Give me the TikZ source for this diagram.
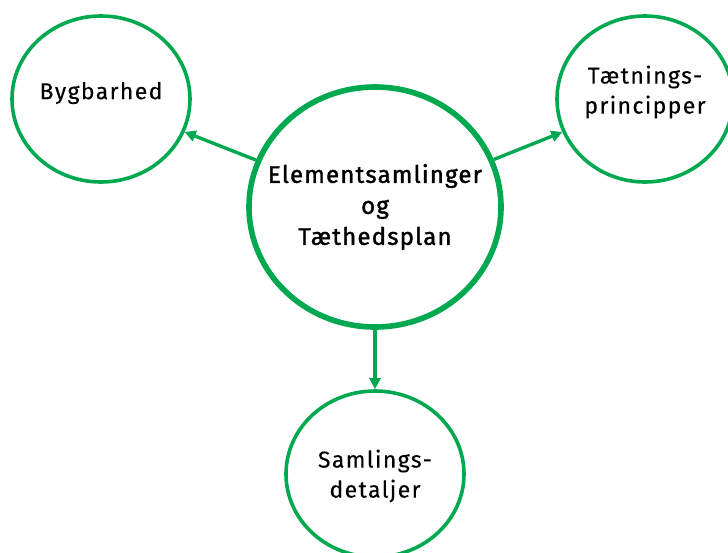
\documentclass[tikz,border=0pt]{standalone}
\usepackage{fontspec}
\usepackage{xcolor}
\newfontfamily\topicfont[LetterSpace=6,FakeBold=0.2]{Fira Sans}
\newfontfamily\hubfont[LetterSpace=5,FakeBold=1.6]{Fira Sans}
\usetikzlibrary{
    shapes.geometric,
    arrows.meta,
    positioning
}
\definecolor{plangreen}{RGB}{0,168,80}

\begin{document}
\begin{tikzpicture}[x=1pt, y=-1pt,
    topic/.style={ellipse, draw=plangreen, line width=3.6pt, inner sep=0pt,
        minimum width=178pt, minimum height=166pt},
    topictext/.style={align=center, font=\topicfont\fontsize{23}{30}\selectfont},
    hubtext/.style={align=center, font=\hubfont\fontsize{24}{31}\selectfont},
    link/.style={draw=plangreen, line width=3.4pt,
        -{Triangle[length=11pt,width=11pt]}}]
                        \useasboundingbox (0, 0) rectangle (728, 552);
                        \node[topic, line width=5.6pt, minimum width=252pt, minimum height=240pt,
                            label={[hubtext, name=hub-txt]center:Elementsamlinger\\og\\Tæthedsplan}]
                            (hub) at (375, 207) {};
                        \node[topic, label={[topictext, name=byg-txt, yshift=6pt]center:Bygbarhed}]
                            (byg) at (101, 99) {};
                        \node[topic, minimum width=176pt,
                            label={[topictext, name=taet-txt, yshift=7pt]center:Tætnings-\\principper}]
                            (taet) at (645, 99) {};
                        \node[topic, label={[topictext, name=saml-txt, yshift=-2pt]center:Samlings-\\detaljer}]
                            (saml) at (375, 474) {};
                        \draw[link] (hub) -- (byg);
                        \draw[link] (hub) -- (taet);
                        \draw[link] (hub) -- (saml);
                    \end{tikzpicture}
\end{document}
